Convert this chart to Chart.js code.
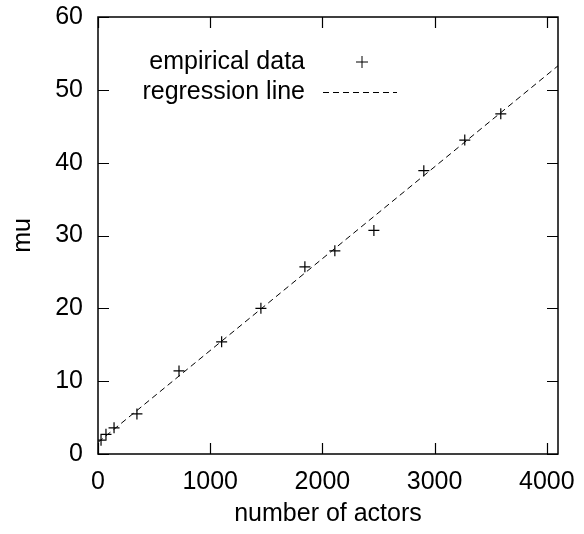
<!DOCTYPE html>
<html>
<head>
<meta charset="utf-8">
<script src="https://cdn.jsdelivr.net/npm/chart.js@4"></script>
<style>
  html, body { margin: 0; padding: 0; background: #fff; }
  #wrap { width: 584px; height: 534px; }
</style>
</head>
<body>
<div id="wrap"><canvas id="grafico"></canvas></div>
<script>
// datos
const actores = [27, 71, 143, 347, 722, 1102, 1452, 1844, 2111, 2459, 2904, 3269, 3590];
const mu = [1.9, 2.7, 3.6, 5.5, 11.4, 15.4, 20.0, 25.7, 27.9, 30.7, 38.9, 43.1, 46.7];
const lineaX = [0, 4100];
const lineaY = [1.6, 53.3];
const ticksX = [0, 1000, 2000, 3000, 4000];
const ticksY = [0, 10, 20, 30, 40, 50, 60];
const etiquetas = ['empirical data', 'regression line'];

const fuente = { family: 'Liberation Sans, Arial, sans-serif', size: 25 };

// marco, marcas hacia dentro y leyenda estilo gnuplot
const marco = {
    id: 'marco',
    afterDraw(chart) {
        const ctx = chart.ctx;
        const a = chart.chartArea;
        const sx = chart.scales.x, sy = chart.scales.y;
        ctx.save();
        ctx.strokeStyle = '#000';
        ctx.lineWidth = 1.5;
        ctx.strokeRect(a.left, a.top, a.right - a.left, a.bottom - a.top);
        ctx.lineWidth = 1.2;
        ctx.beginPath();
        sx.ticks.forEach(t => {
            const px = Math.round(sx.getPixelForValue(t.value)) + 0.5;
            ctx.moveTo(px, a.bottom); ctx.lineTo(px, a.bottom - 11);
            ctx.moveTo(px, a.top); ctx.lineTo(px, a.top + 11);
        });
        sy.ticks.forEach(t => {
            const py = Math.round(sy.getPixelForValue(t.value)) + 0.5;
            ctx.moveTo(a.left, py); ctx.lineTo(a.left + 11, py);
            ctx.moveTo(a.right, py); ctx.lineTo(a.right - 11, py);
        });
        ctx.stroke();

        // leyenda
        ctx.fillStyle = '#000';
        ctx.font = fuente.size + 'px ' + fuente.family;
        ctx.textAlign = 'right';
        ctx.textBaseline = 'middle';
        ctx.fillText(etiquetas[0], 305, 62);
        ctx.fillText(etiquetas[1], 305, 92);
        ctx.lineWidth = 1;
        ctx.beginPath();
        ctx.moveTo(356, 62); ctx.lineTo(368, 62);
        ctx.moveTo(362, 56); ctx.lineTo(362, 68);
        ctx.stroke();
        ctx.setLineDash([6, 4]);
        ctx.beginPath();
        ctx.moveTo(323, 92.5); ctx.lineTo(397, 92.5);
        ctx.stroke();
        ctx.restore();
    }
};

const ctx = document.getElementById('grafico').getContext('2d');
const grafico = new Chart(ctx, {
    type: 'scatter',
    data: {
        datasets: [{
            label: etiquetas[0],
            data: actores.map((x, i) => ({ x: x, y: mu[i] })),
            pointStyle: 'cross',
            pointRadius: 5.5,
            borderColor: '#000',
            borderWidth: 1.2,
            showLine: false
        }, {
            label: etiquetas[1],
            data: lineaX.map((x, i) => ({ x: x, y: lineaY[i] })),
            showLine: true,
            pointRadius: 0,
            borderColor: '#000',
            borderWidth: 1,
            borderDash: [6, 4],
            fill: false
        }]
    },
    options: {
        responsive: true,
        maintainAspectRatio: false,
        animation: false,
        layout: { padding: { left: 0, right: 26, top: 17, bottom: 0 } },
        plugins: {
            legend: { display: false },
            tooltip: { enabled: false }
        },
        scales: {
            x: {
                type: 'linear',
                min: 0,
                max: 4100,
                afterBuildTicks: s => { s.ticks = ticksX.map(v => ({ value: v })); },
                afterFit: s => {
                    s.height = 80;
                    s.paddingLeft = 0; s.paddingRight = 0;
                },
                grid: { display: false, drawTicks: false },
                border: { display: false },
                ticks: {
                    maxRotation: 0,
                    autoSkip: false,
                    padding: 13,
                    color: '#000',
                    font: fuente,
                    callback: v => v
                },
                title: {
                    display: true,
                    text: 'number of actors',
                    color: '#000',
                    font: fuente,
                    padding: { top: 0, bottom: 5 }
                }
            },
            y: {
                min: 0,
                max: 60,
                afterBuildTicks: s => { s.ticks = ticksY.map(v => ({ value: v })); },
                afterFit: s => {
                    s.width = 98;
                    s.paddingTop = 0; s.paddingBottom = 0;
                },
                grid: { display: false, drawTicks: false },
                border: { display: false },
                ticks: {
                    padding: 15,
                    color: '#000',
                    font: fuente,
                    callback: v => v
                },
                title: {
                    display: true,
                    text: 'mu',
                    color: '#000',
                    font: fuente,
                    padding: { top: 8, bottom: 0 }
                }
            }
        }
    },
    plugins: [marco]
});
</script>
</body>
</html>
